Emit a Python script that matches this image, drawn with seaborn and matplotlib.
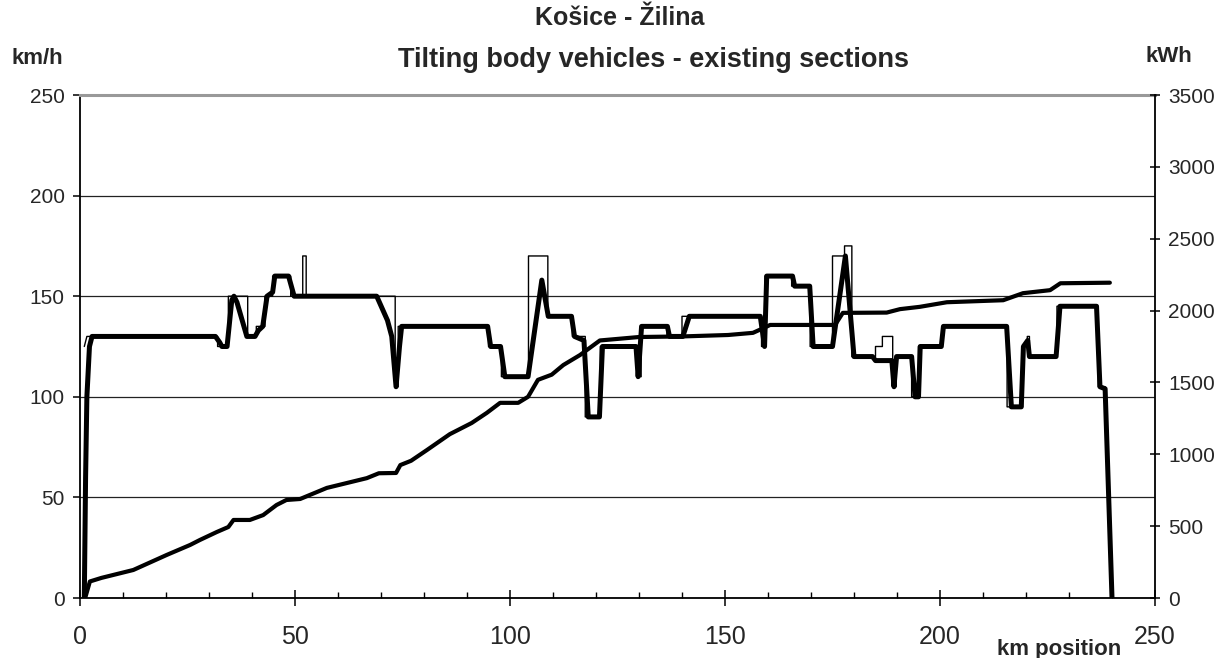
import numpy as np
import pandas as pd
import matplotlib
matplotlib.use("Agg")
import matplotlib.pyplot as plt
import seaborn as sns
from matplotlib.ticker import MultipleLocator

# speed limit (thin line), km/h
LIMIT_KM = [1.0, 1.6, 32.0, 32.0, 34.5, 34.5, 39.0, 39.0, 41.0, 41.0, 43.0, 43.0, 44.8, 44.8,
            49.0, 49.0, 51.8, 51.8, 52.6, 52.6, 73.3, 73.3, 74.0, 74.0, 95.0, 95.0, 98.0, 98.0,
            104.3, 104.3, 108.8, 108.8, 114.5, 114.5, 117.5, 117.5, 121.0, 121.0, 129.5, 129.5,
            130.5, 130.5, 136.5, 136.5, 140.0, 140.0, 158.5, 158.5, 159.3, 159.3, 165.5, 165.5,
            169.8, 169.8, 175.0, 175.0, 177.8, 177.8, 179.5, 179.5, 185.0, 185.0, 186.6, 186.6,
            189.0, 189.0, 189.8, 189.8, 193.4, 193.4, 195.0, 195.0, 200.5, 200.5, 215.6, 215.6,
            219.2, 219.2, 220.3, 220.3, 220.8, 220.8, 227.2, 227.2, 236.8, 236.8, 238.4, 240.0]
LIMIT_SPEED = [125, 130, 130, 125, 125, 150, 150, 130, 130, 135, 135, 150, 150, 160,
               160, 150, 150, 170, 170, 150, 150, 105, 105, 135, 135, 125, 125, 110,
               110, 170, 170, 140, 140, 130, 130, 90, 90, 125, 125, 110,
               110, 135, 135, 130, 130, 140, 140, 125, 125, 160, 160, 155,
               155, 125, 125, 170, 170, 175, 175, 120, 120, 125, 125, 130,
               130, 105, 105, 120, 120, 100, 100, 125, 125, 135, 135, 95,
               95, 125, 125, 130, 130, 120, 120, 145, 145, 105, 105, 0]

# driven speed (thick line), km/h
SPEED_KM = [1.0, 1.3, 1.6, 2.2, 2.8, 31.5, 32.5, 33.0, 34.2, 35.3, 35.8, 36.5, 38.8, 40.7,
            41.5, 42.5, 43.5, 44.8, 45.3, 48.5, 49.8, 69.0, 71.5, 72.5, 73.5, 74.3, 74.8,
            94.8, 95.5, 97.8, 98.8, 104.2, 107.4, 108.9, 114.3, 115.0, 117.2, 118.2, 120.8,
            121.5, 129.3, 129.8, 130.6, 136.6, 137.1, 140.2, 141.7, 158.2, 159.2, 159.7,
            165.7, 166.2, 169.7, 170.5, 175.0, 178.0, 180.0, 184.3, 185.0, 188.8, 189.3,
            189.9, 193.4, 194.2, 195.0, 195.4, 200.3, 200.8, 215.5, 216.6, 218.9, 219.4,
            220.4, 220.8, 227.0, 227.9, 236.4, 237.2, 238.4, 240.0]
SPEED_KMH = [0, 60, 100, 125, 130, 130, 127, 125, 125, 148, 150, 147, 130, 130,
             133, 135, 150, 152, 160, 160, 150, 150, 138, 130, 105, 125, 135,
             135, 125, 125, 110, 110, 158, 140, 140, 130, 128, 90, 90,
             125, 125, 110, 135, 135, 130, 130, 140, 140, 125, 160,
             160, 155, 155, 125, 125, 170, 120, 120, 118, 118, 105,
             120, 120, 100, 100, 125, 125, 135, 135, 95, 95, 125,
             128, 120, 120, 145, 145, 105, 104, 0]

# cumulative energy, kWh (right axis)
ENERGY_KM = [1.2, 2.3, 5.0, 12.4, 20.2, 25.6, 27.9, 31.8, 34.5, 35.7, 39.5, 42.6, 45.7, 48.0,
             51.2, 57.4, 66.7, 69.5, 73.5, 74.5, 77.0, 80.7, 86.0, 91.1, 94.6, 97.7, 101.9,
             104.2, 106.5, 109.7, 112.4, 116.3, 120.9, 130.0, 140.0, 150.7, 156.5, 158.8,
             160.5, 175.6, 177.4, 187.6, 190.7, 195.3, 201.6, 214.7, 219.3, 225.6, 228.0, 239.5]
ENERGY_KWH = [0, 115, 140, 195, 300, 369, 404, 459, 494, 543, 543, 577, 647, 682,
              689, 766, 834, 868, 870, 925, 955, 1030, 1140, 1218, 1288, 1358, 1358,
              1400, 1518, 1554, 1621, 1691, 1792, 1816, 1820, 1830, 1845, 1876,
              1900, 1900, 1984, 1986, 2010, 2026, 2058, 2072, 2121, 2142, 2190, 2194]

sns.set_theme(style="white")
plt.rcParams["font.family"] = ["Liberation Sans", "DejaVu Sans"]

W, H = 1232, 658
fig = plt.figure(figsize=(W / 100, H / 100), dpi=100)
ax = fig.add_axes([80 / W, 1 - 598 / H, 1075 / W, 503 / H])
ax2 = ax.twinx()

limit_df = pd.DataFrame({"km": LIMIT_KM, "speed": LIMIT_SPEED})
speed_df = pd.DataFrame({"km": SPEED_KM, "speed": SPEED_KMH})
energy_df = pd.DataFrame({"km": ENERGY_KM, "kwh": ENERGY_KWH})

sns.lineplot(data=limit_df, x="km", y="speed", ax=ax, color="black", lw=1.0,
             sort=False, estimator=None, legend=False)
sns.lineplot(data=speed_df, x="km", y="speed", ax=ax, color="black", lw=3.6,
             sort=False, estimator=None, legend=False)
sns.lineplot(data=energy_df, x="km", y="kwh", ax=ax2, color="black", lw=3.0,
             sort=False, estimator=None, legend=False)

ax.set_xlim(0, 250)
ax.set_ylim(0, 250)
ax2.set_ylim(0, 3500)
ax.set_xlabel("")
ax.set_ylabel("")
ax2.set_ylabel("")

ax.xaxis.set_major_locator(MultipleLocator(50))
ax.xaxis.set_minor_locator(MultipleLocator(10))
ax.yaxis.set_major_locator(MultipleLocator(50))
ax2.yaxis.set_major_locator(MultipleLocator(500))

ax.set_axisbelow(True)
ax.yaxis.grid(True, color="#222222", lw=0.9)
ax.xaxis.grid(False)
ax2.grid(False)

for side in ["left", "bottom"]:
    ax.spines[side].set_color("black")
    ax.spines[side].set_linewidth(1.3)
ax.spines["top"].set_color("#999999")
ax.spines["top"].set_linewidth(2.2)
ax.spines["right"].set_visible(False)
for side in ["left", "bottom", "top"]:
    ax2.spines[side].set_visible(False)
ax2.spines["right"].set_color("black")
ax2.spines["right"].set_linewidth(1.3)

ax.tick_params(axis="x", which="major", direction="inout", length=11, width=1.1,
               color="black", labelsize=18, pad=14, bottom=True)
ax.tick_params(axis="x", which="minor", direction="in", length=4.5, width=1.0,
               color="black", bottom=True)
ax.tick_params(axis="y", which="major", direction="out", length=5, width=1.1,
               color="black", labelsize=15, pad=6, left=True)
ax2.tick_params(axis="y", which="major", direction="inout", length=7, width=1.1,
                color="black", labelsize=15, pad=6, right=True)

fig.text(620 / W, 1 - 18 / H, "Košice - Žilina", ha="center", va="center",
         fontsize=18, fontweight="bold")
fig.text(653 / W, 1 - 60 / H, "Tilting body vehicles - existing sections", ha="center",
         va="center", fontsize=19.5, fontweight="bold")
fig.text(37 / W, 1 - 58 / H, "km/h", ha="center", va="center", fontsize=16, fontweight="bold")
fig.text(1169 / W, 1 - 57 / H, "kWh", ha="center", va="center", fontsize=16, fontweight="bold")
fig.text(1059 / W, 1 - 649 / H, "km position", ha="center", va="center", fontsize=16,
         fontweight="bold")

fig.savefig("out.png", dpi=100, facecolor="white")
